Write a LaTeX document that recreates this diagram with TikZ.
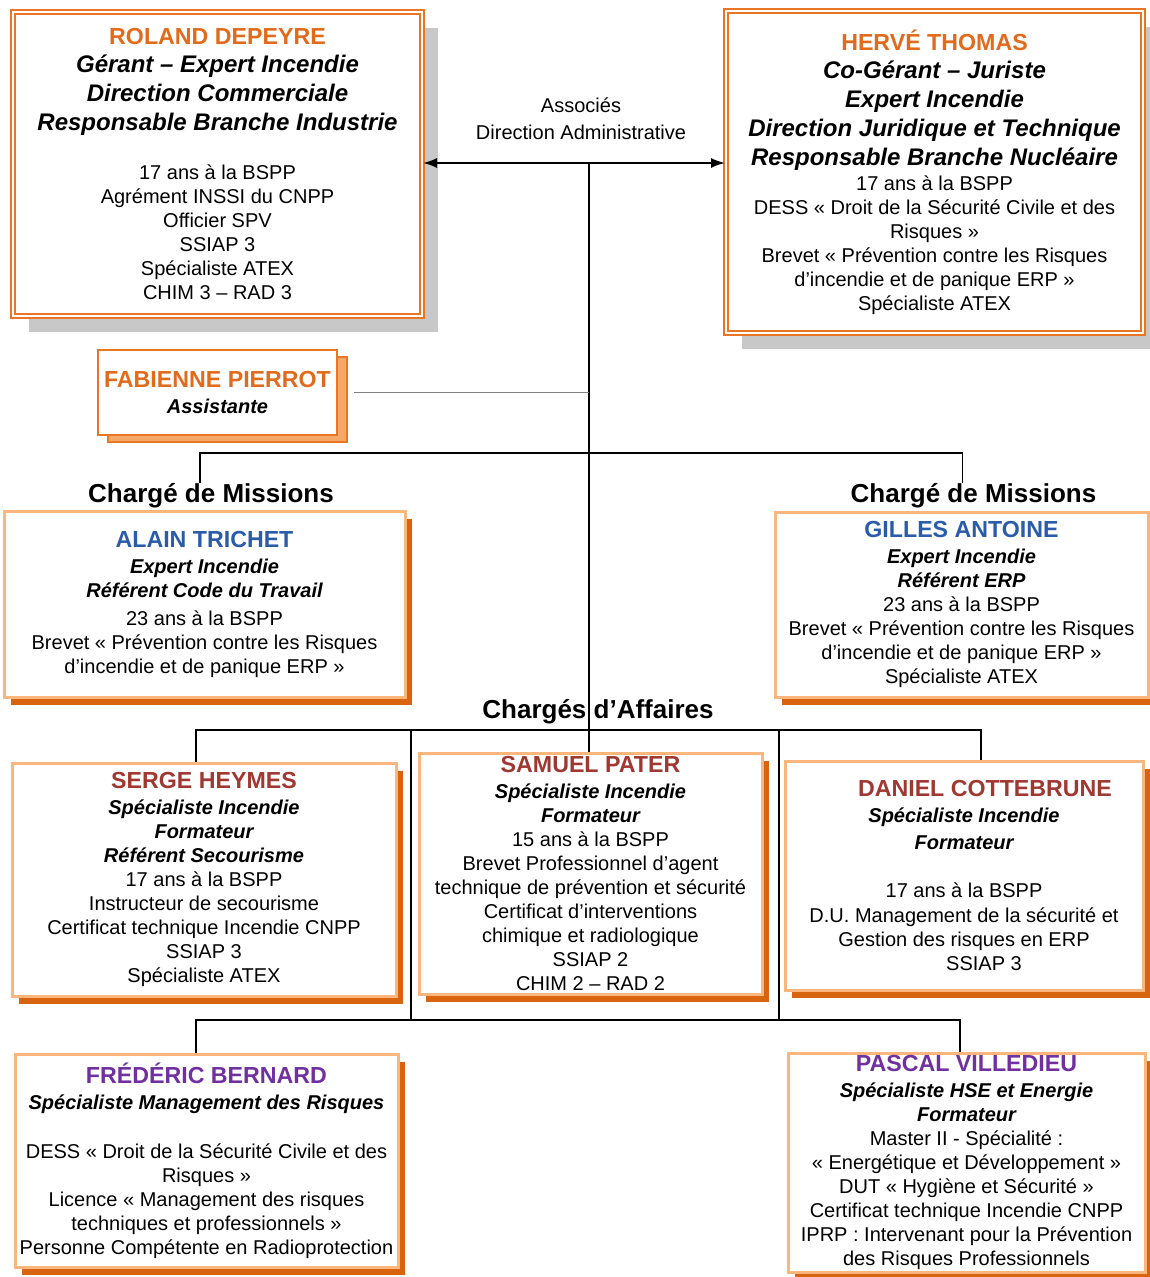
\documentclass[tikz,border=0pt]{standalone}
\usepackage{fontspec}
\setmainfont{Liberation Sans}
\usetikzlibrary{arrows.meta,shadows}

\definecolor{bossline}{RGB}{232,118,36}
\definecolor{bossname}{RGB}{226,106,28}
\definecolor{bossshade}{RGB}{200,200,200}
\definecolor{aideshade}{RGB}{246,168,104}
\definecolor{staffline}{RGB}{250,182,124}
\definecolor{staffshade}{RGB}{216,100,16}
\definecolor{missname}{RGB}{42,92,170}
\definecolor{affname}{RGB}{160,56,50}
\definecolor{riskname}{RGB}{112,48,160}

\begin{document}
\begin{tikzpicture}[
		x = 0.5pt, y = -0.5pt,
		every node/.style = {font = \fontsize{10}{12}\selectfont, inner sep = 0pt},
		partner/.style = {draw = bossline, line width = 1pt, double = white, double distance = 1pt, fill = white, align = center,
			drop shadow = {shadow xshift = 8pt, shadow yshift = -8pt, fill = bossshade, opacity = 1}},
		aide/.style = {draw = bossline, line width = 1pt, fill = white, align = center,
			drop shadow = {shadow xshift = 5pt, shadow yshift = -3.5pt, fill = aideshade, draw = bossline, opacity = 1}},
		staff/.style = {draw = staffline, line width = 1.5pt, fill = white, align = center,
			drop shadow = {shadow xshift = 3.5pt, shadow yshift = -4pt, fill = staffshade, opacity = 1}},
		wire/.style = {line width = 0.9pt},
		team/.style = {font = \fontsize{13}{15}\selectfont\bfseries},
		tip/.tip = {Latex[length = 7pt, width = 5pt]}
		]

		\def\who#1#2{\textcolor{#1}{\fontsize{11.6}{14}\selectfont\bfseries #2}}
		\def\lead#1{{\fontsize{12}{14}\selectfont\bfseries\itshape #1}}
		\def\role#1{{\bfseries\itshape #1}}

		\useasboundingbox (0,0) rectangle (1149,1277);

		\node[partner, minimum width = 204.5pt, minimum height = 152pt] (roland) at (217.5,164) {
			\who{bossname}{ROLAND DEPEYRE}\\[2pt]
			\lead{Gérant – Expert Incendie}\\[2.5pt]
			\lead{Direction Commerciale}\\[2.5pt]
			\lead{Responsable Branche Industrie}\\[12.5pt]
			17 ans à la BSPP\\
			Agrément INSSI du CNPP\\
			Officier SPV\\
			SSIAP 3\\
			Spécialiste ATEX\\
			CHIM 3 – RAD 3};

		\node[partner, minimum width = 208.5pt, minimum height = 161pt] (herve) at (934.5,172) {
			\who{bossname}{HERVÉ THOMAS}\\[2pt]
			\lead{Co-Gérant – Juriste}\\[2.5pt]
			\lead{Expert Incendie}\\[2.5pt]
			\lead{Direction Juridique et Technique}\\[2.5pt]
			\lead{Responsable Branche Nucléaire}\\[0.5pt]
			17 ans à la BSPP\\
			DESS « Droit de la Sécurité Civile et des\\
			Risques »\\
			Brevet « Prévention contre les Risques\\
			d’incendie et de panique ERP »\\
			Spécialiste ATEX};

		\node at (581,118.5) [align = center] (assoc) {Associés\\[1.5pt] Direction Administrative};

		\node[aide, minimum width = 119.5pt, minimum height = 42.5pt] (fabienne) at (217.5,392.5) {
			\who{bossname}{FABIENNE PIERROT}\\[1pt]
			\role{Assistante}};

		\node[team] (missL) at (211,496) {Chargé de Missions};
		\node[team] (missR) at (973.5,496) {Chargé de Missions};

		\node[staff, minimum width = 200.5pt, minimum height = 93pt] (alain) at (204.5,604) {
			\who{missname}{ALAIN TRICHET}\\[1pt]
			\role{Expert Incendie}\\
			\role{Référent Code du Travail}\\[2pt]
			23 ans à la BSPP\\
			Brevet « Prévention contre les Risques\\
			d’incendie et de panique ERP »};

		\node[staff, minimum width = 186.5pt, minimum height = 92.5pt] (gilles) at (961.5,604.5) {
			\who{missname}{GILLES ANTOINE}\\[1pt]
			\role{Expert Incendie}\\
			\role{Référent ERP}\\
			23 ans à la BSPP\\
			Brevet « Prévention contre les Risques\\
			d’incendie et de panique ERP »\\
			Spécialiste ATEX};

		\node[team] (affaires) at (598,712) {Chargés d’Affaires};

		\node[staff, minimum width = 192pt, minimum height = 116.5pt] (serge) at (204,879.5) {
			\who{affname}{SERGE HEYMES}\\[1pt]
			\role{Spécialiste Incendie}\\
			\role{Formateur}\\
			\role{Référent Secourisme}\\
			17 ans à la BSPP\\
			Instructeur de secourisme\\
			Certificat technique Incendie CNPP\\
			SSIAP 3\\
			Spécialiste ATEX};

		\node[staff, minimum width = 171.5pt, minimum height = 120.5pt] (samuel) at (590.5,873.5) {
			\who{affname}{SAMUEL PATER}\\[1pt]
			\role{Spécialiste Incendie}\\
			\role{Formateur}\\
			15 ans à la BSPP\\
			Brevet Professionnel d’agent\\
			technique de prévention et sécurité\\
			Certificat d’interventions\\
			chimique et radiologique\\
			SSIAP 2\\
			CHIM 2 – RAD 2};

		\node[staff, minimum width = 179pt, minimum height = 114.5pt] (daniel) at (964,875.5) {
			\who{affname}{\hspace*{21pt}DANIEL COTTEBRUNE}\\[1pt]
			\role{Spécialiste Incendie}\\[1.5pt]
			\role{Formateur}\\[12pt]
			17 ans à la BSPP\\[0.5pt]
			D.U. Management de la sécurité et\\
			Gestion des risques en ERP\\
			\hspace*{20pt}SSIAP 3};

		\node[staff, minimum width = 191.5pt, minimum height = 106.5pt] (frederic) at (206.5,1160.5) {
			\who{riskname}{FRÉDÉRIC BERNARD}\\[1pt]
			\role{Spécialiste Management des Risques}\\[12.5pt]
			DESS « Droit de la Sécurité Civile et des\\
			Risques »\\
			Licence « Management des risques\\
			techniques et professionnels »\\
			Personne Compétente en Radioprotection};

		\node[staff, minimum width = 178.5pt, minimum height = 109.5pt] (pascal) at (966.5,1162.5) {
			\who{riskname}{PASCAL VILLEDIEU}\\[1pt]
			\role{Spécialiste HSE et Energie}\\
			\role{Formateur}\\
			Master II - Spécialité :\\
			« Energétique et Développement »\\
			DUT « Hygiène et Sécurité »\\
			Certificat technique Incendie CNPP\\
			IPRP : Intervenant pour la Prévention\\
			des Risques Professionnels};

		\coordinate (hub) at (589,163);
		\coordinate (misbar) at (589,453);
		\coordinate (affbar) at (589,730);
		\coordinate (postL) at (411,730);
		\coordinate (postR) at (779,730);
		\coordinate (footL) at (411,1020);
		\coordinate (footR) at (779,1020);

		\draw[wire, tip-tip] (roland.east |- hub) -- (hub -| herve.west);
		\draw[wire] (hub) -- (samuel.north -| hub);
		\draw[wire, gray] ([xshift = 8pt]fabienne.east) -- (fabienne.east -| hub);
		\draw[wire] ([xshift = -5.5pt]missL.north) |- (misbar) -| ([xshift = -5.5pt]missR.north);
		\draw[wire] ([xshift = -4pt]serge.north) |- (affbar) -| ([xshift = 8.5pt]daniel.north);
		\draw[wire] (postL) -- (footL) (postR) -- (footR);
		\draw[wire] ([xshift = -5.25pt]frederic.north) |- (footL) -- (footR) -| ([xshift = -3.25pt]pascal.north);

	\end{tikzpicture}
\end{document}
